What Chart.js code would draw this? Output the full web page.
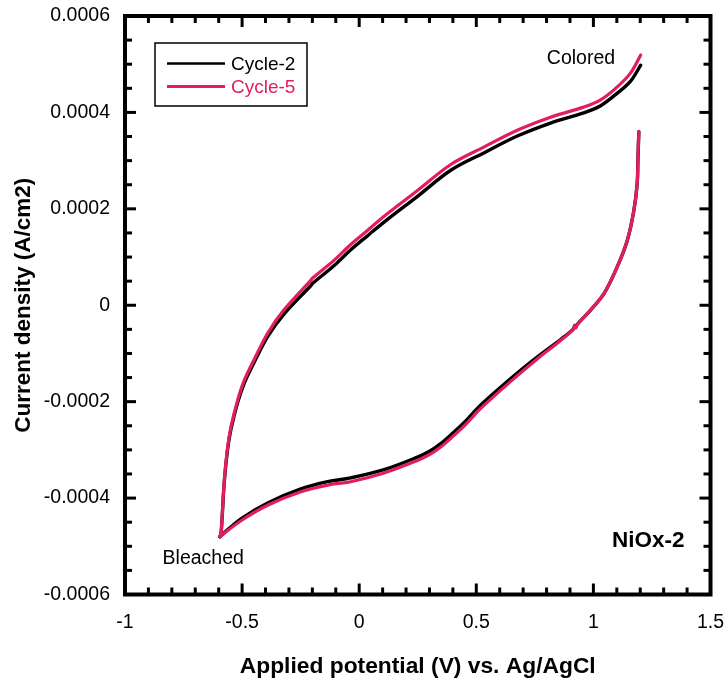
<!DOCTYPE html>
<html><head><meta charset="utf-8">
<script src="https://cdn.jsdelivr.net/npm/chart.js@4/dist/chart.umd.min.js"></script>
<style>html,body{margin:0;padding:0;background:#fff}#wrap{width:727px;height:684px}</style>
</head><body><div id="wrap"><canvas id="c" width="727" height="684"></canvas></div>
<script>
// ---- data ----
const seriesNames = ['Cycle-2', 'Cycle-5'];

// cathodic (return) branch: from the anodic limit back to the bleached point
const lowerX = [1.194, 1.19, 1.187, 1.173, 1.145, 1.102, 1.045, 0.988, 0.93, 0.925, 0.92, 0.915, 0.86, 0.761, 0.647, 0.519, 0.455, 0.391, 0.348, 0.3, 0.249, 0.106, -0.036, -0.135, -0.249, -0.391, -0.505, -0.595];
const c2Lower = [0.00036, 0.000301, 0.000253, 0.000197, 0.000135, 0.00008, 0.000024, -0.00001, -0.00004, -0.000045, -0.000042, -0.000049, -0.000071, -0.000107, -0.000152, -0.000207, -0.00024, -0.000269, -0.000287, -0.000303, -0.000315, -0.000341, -0.000358, -0.000366, -0.000381, -0.00041, -0.000443, -0.00048];
const c5Lower = [0.00036, 0.000301, 0.000253, 0.000197, 0.000135, 0.00008, 0.000024, -0.00001, -0.000041, -0.000047, -0.000043, -0.00005, -0.000073, -0.000111, -0.000158, -0.000214, -0.000247, -0.000276, -0.000294, -0.00031, -0.000322, -0.000348, -0.000366, -0.000373, -0.000387, -0.000415, -0.000447, -0.00048];

// anodic branch: from the bleached point up to the coloured state
const upperX = [-0.595, -0.59, -0.576, -0.562, -0.548, -0.519, -0.491, -0.45, -0.391, -0.322, -0.206, -0.2, -0.108, -0.036, 0.035, 0.105, 0.249, 0.391, 0.532, 0.675, 0.817, 0.958, 1.031, 1.102, 1.159, 1.202];
const c2Upper = [-0.00048, -0.000475, -0.000366, -0.000299, -0.000258, -0.000202, -0.000162, -0.00012, -0.000065, -0.000019, 0.000041, 0.000045, 0.000082, 0.000115, 0.000144, 0.000172, 0.000226, 0.00028, 0.000316, 0.000351, 0.000378, 0.000399, 0.000414, 0.00044, 0.000465, 0.000498];
const c5Upper = [-0.00048, -0.000474, -0.000363, -0.000295, -0.000253, -0.000197, -0.000156, -0.000114, -0.000058, -0.00001, 0.000052, 0.000056, 0.000093, 0.000126, 0.000155, 0.000184, 0.000238, 0.000292, 0.000328, 0.000363, 0.00039, 0.000411, 0.000426, 0.000453, 0.000482, 0.000519];

const xTicks = [-1, -0.5, 0, 0.5, 1, 1.5];
const xTickLabels = ['-1', '-0.5', '0', '0.5', '1', '1.5'];
const yTicks = [-0.0006, -0.0004, -0.0002, 0, 0.0002, 0.0004, 0.0006];
const yTickLabels = ['-0.0006', '-0.0004', '-0.0002', '0', '0.0002', '0.0004', '0.0006'];

const xTitle = 'Applied potential (V) vs. Ag/AgCl';
const yTitle = 'Current density (A/cm2)';
const annotations = ['Colored', 'Bleached', 'NiOx-2'];

// ---- styling ----
const FONT = '"Liberation Sans", Arial, Helvetica, sans-serif';
const BLACK = '#000000';
const PINK = '#E21E5C';

const pts = (xs, ys) => xs.map((v, i) => ({x: v, y: ys[i]}));

function ds(label, data, color, width) {
  return {label, data, borderColor: color, backgroundColor: color, borderWidth: width,
    pointRadius: 0, pointHoverRadius: 0, showLine: true, fill: false, tension: 0.35,
    borderCapStyle: 'round', borderJoinStyle: 'round'};
}

const datasets = [
  ds(seriesNames[1], pts(upperX, c5Upper), PINK, 3.2),
  ds(seriesNames[1], pts(lowerX, c5Lower), PINK, 3.2),
  ds(seriesNames[0], pts(upperX, c2Upper), BLACK, 3.4),
  ds(seriesNames[0], pts(lowerX, c2Lower), BLACK, 3.4),
];

const decor = {
  id: 'decor',
  afterDraw(chart) {
    const {ctx, chartArea: a, scales: {x, y}} = chart;
    ctx.save();
    const line = (x1, y1, x2, y2) => { ctx.beginPath(); ctx.moveTo(x1, y1); ctx.lineTo(x2, y2); ctx.stroke(); };
    ctx.strokeStyle = '#000';
    ctx.lineWidth = 3;
    const MAJ = 11, MIN = 7;
    for (let i = 0; i < xTicks.length; i++) {
      const p = x.getPixelForValue(xTicks[i]);
      line(p, a.bottom, p, a.bottom - MAJ); line(p, a.top, p, a.top + MAJ);
      if (i < xTicks.length - 1) {
        for (let k = 1; k < 5; k++) {
          const q = x.getPixelForValue(xTicks[i] + (xTicks[i + 1] - xTicks[i]) * k / 5);
          line(q, a.bottom, q, a.bottom - MIN); line(q, a.top, q, a.top + MIN);
        }
      }
    }
    for (let i = 0; i < yTicks.length; i++) {
      const p = y.getPixelForValue(yTicks[i]);
      line(a.left, p, a.left + MAJ, p); line(a.right, p, a.right - MAJ, p);
      if (i < yTicks.length - 1) {
        for (let k = 1; k < 4; k++) {
          const q = y.getPixelForValue(yTicks[i] + (yTicks[i + 1] - yTicks[i]) * k / 4);
          line(a.left, q, a.left + MIN, q); line(a.right, q, a.right - MIN, q);
        }
      }
    }
    ctx.lineWidth = 4;
    ctx.strokeRect(a.left, a.top, a.right - a.left, a.bottom - a.top);

    ctx.fillStyle = '#000';
    ctx.textAlign = 'center';
    ctx.textBaseline = 'middle';
    ctx.font = '19.5px ' + FONT;
    ctx.fillText(annotations[0], x.getPixelForValue(0.947), y.getPixelForValue(0.000511));
    ctx.fillText(annotations[1], x.getPixelForValue(-0.666), y.getPixelForValue(-0.000526));
    ctx.font = 'bold 22.5px ' + FONT;
    ctx.fillText(annotations[2], x.getPixelForValue(1.234), y.getPixelForValue(-0.000489));

    const lx = a.left + 30, ly = a.top + 27, lw = 152, lh = 63;
    ctx.lineWidth = 1.5;
    ctx.strokeStyle = '#000';
    ctx.strokeRect(lx, ly, lw, lh);
    const entries = [[seriesNames[0], BLACK, 2.6, 20.5], [seriesNames[1], PINK, 3.2, 43.5]];
    ctx.textAlign = 'left';
    ctx.font = '19px ' + FONT;
    for (const [name, col, w, dy] of entries) {
      ctx.strokeStyle = col; ctx.lineWidth = w;
      line(lx + 12, ly + dy, lx + 70, ly + dy);
      ctx.fillStyle = col;
      ctx.fillText(name, lx + 76, ly + dy + 1);
    }
    ctx.restore();
  }
};

new Chart(document.getElementById('c'), {
  type: 'scatter',
  data: {datasets},
  options: {
    responsive: false,
    animation: false,
    devicePixelRatio: 1,
    layout: {padding: {left: 0, right: 16.5, top: 16, bottom: 0}},
    plugins: {legend: {display: false}, tooltip: {enabled: false}},
    scales: {
      x: {
        type: 'linear', min: -1, max: 1.5,
        afterBuildTicks: s => { s.ticks = xTicks.map(v => ({value: v})); },
        afterFit: s => { s.height = 89.5; s.paddingLeft = 0; s.paddingRight = 0; },
        ticks: {callback: (v, i) => xTickLabels[i], color: '#000', padding: 16,
          font: {family: FONT, size: 19.5}, maxRotation: 0, autoSkip: false},
        grid: {display: false, drawTicks: false},
        border: {display: false},
        title: {display: true, text: xTitle, color: '#000',
          font: {family: FONT, size: 22.8, weight: 'bold'}, padding: {top: 0, bottom: 4}}
      },
      y: {
        type: 'linear', min: -0.0006, max: 0.0006,
        afterBuildTicks: s => { s.ticks = yTicks.map(v => ({value: v})); },
        afterFit: s => { s.width = 125; s.paddingTop = 0; s.paddingBottom = 0; },
        ticks: {callback: (v, i) => yTickLabels[i], color: '#000', padding: 15,
          font: {family: FONT, size: 19.5}, autoSkip: false},
        grid: {display: false, drawTicks: false},
        border: {display: false},
        title: {display: true, text: yTitle, color: '#000',
          font: {family: FONT, size: 22.5, weight: 'bold'}, padding: {top: 10, bottom: 0}}
      }
    }
  },
  plugins: [decor]
});
</script>
</body></html>
